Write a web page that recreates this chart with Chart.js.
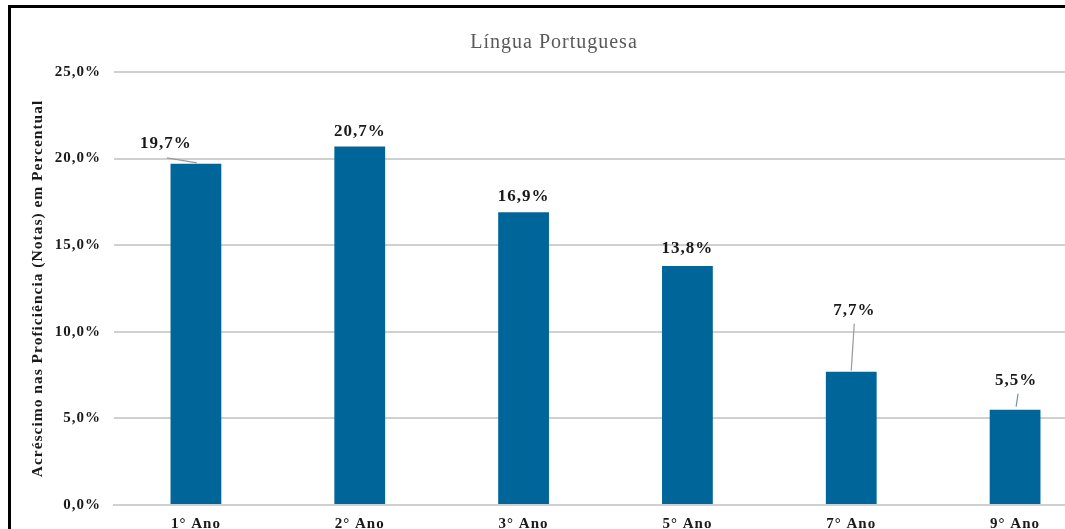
<!DOCTYPE html>
<html>
<head>
<meta charset="utf-8">
<script src="https://cdn.jsdelivr.net/npm/chart.js@4/dist/chart.umd.min.js"></script>
<style>
    html, body { margin: 0; padding: 0; background: #fff; overflow: hidden; }
    #frame {
        position: absolute; left: 8px; top: 5px;
        width: 1100px; height: 560px;
        border-left: 3px solid #000; border-top: 3px solid #000;
    }
    #wrap { position: absolute; left: 0; top: 0; width: 1095px; height: 530px; }
</style>
</head>
<body>
<div id="frame"><div id="wrap"><canvas id="chart"></canvas></div></div>
<script>
// Língua Portuguesa - acréscimo percentual por ano
const categories = ['1° Ano', '2° Ano', '3° Ano', '5° Ano', '7° Ano', '9° Ano'];
const values = [19.7, 20.7, 16.9, 13.8, 7.7, 5.5];
const yTicks = [0, 5, 10, 15, 20, 25];

// label nudges relative to bar top (px), and leader lines [fromDx, fromDy, toDx, toDy]
const labelOffsets = [[-30, -20], [0, -15], [0, -16], [0, -17], [3, -61], [1, -29]];
const leaderLines = [[-29, -6, 1, -1], null, null, null, [3, -48, 0, -1], [3, -16, 1, -3]];

const fmt = v => v.toFixed(1).replace('.', ',') + '%';
const serif = "'Liberation Serif', 'Times New Roman', serif";

const spacing = {
    id: 'spacing',
    beforeDraw(chart) { chart.ctx.letterSpacing = '1px'; }
};

const barLabels = {
    id: 'barLabels',
    afterDatasetsDraw(chart) {
        const ctx = chart.ctx;
        const meta = chart.getDatasetMeta(0);
        ctx.save();
        meta.data.forEach((bar, i) => {
            const line = leaderLines[i];
            if (line) {
                ctx.strokeStyle = i === 5 ? '#6d8fb0' : '#9a9a9a';
                ctx.lineWidth = 1.2;
                ctx.beginPath();
                ctx.moveTo(bar.x + line[0], bar.y + line[1]);
                ctx.lineTo(bar.x + line[2], bar.y + line[3]);
                ctx.stroke();
            }
            const off = labelOffsets[i];
            ctx.letterSpacing = '1px';
            ctx.font = 'bold 17px ' + serif;
            ctx.fillStyle = '#1a1a1a';
            ctx.textAlign = 'center';
            ctx.textBaseline = 'middle';
            ctx.fillText(fmt(values[i]), bar.x + off[0], bar.y + off[1]);
        });
        ctx.restore();
    }
};

new Chart(document.getElementById('chart'), {
    type: 'bar',
    data: {
        labels: categories,
        datasets: [{
            data: values,
            backgroundColor: '#006699',
            borderWidth: 0,
            barPercentage: 0.31,
            categoryPercentage: 1
        }]
    },
    options: {
        responsive: true,
        maintainAspectRatio: false,
        animation: false,
        layout: { padding: { left: 0, right: 9, top: 0, bottom: 0 } },
        plugins: {
            legend: { display: false },
            tooltip: { enabled: false },
            title: {
                display: true,
                text: 'Língua Portuguesa',
                color: '#595959',
                font: { family: serif, size: 20, weight: 'normal', lineHeight: 1.2 },
                padding: { top: 23, bottom: 17 }
            }
        },
        scales: {
            x: {
                grid: { display: false },
                border: { display: true, color: '#d0d0d0', width: 2 },
                ticks: {
                    color: '#1a1a1a',
                    padding: 2,
                    font: { family: serif, size: 15, weight: 'bold' }
                },
                afterFit: s => { s.height = 33; }
            },
            y: {
                min: 0,
                max: 25,
                afterBuildTicks: s => { s.ticks = yTicks.map(v => ({ value: v })); },
                grid: { color: '#d0d0d0', lineWidth: 2, drawTicks: false },
                border: { display: false },
                ticks: {
                    color: '#1a1a1a',
                    padding: 13,
                    font: { family: serif, size: 15, weight: 'bold' },
                    callback: v => fmt(v)
                },
                title: {
                    display: true,
                    text: 'Acréscimo nas Proficiência (Notas) em Percentual',
                    color: '#1a1a1a',
                    font: { family: serif, size: 15.5, weight: 'bold', lineHeight: 1.2 },
                    padding: { top: 18, bottom: 0 }
                },
                afterFit: s => { s.width = 103; }
            }
        }
    },
    plugins: [spacing, barLabels]
});
</script>
</body>
</html>
